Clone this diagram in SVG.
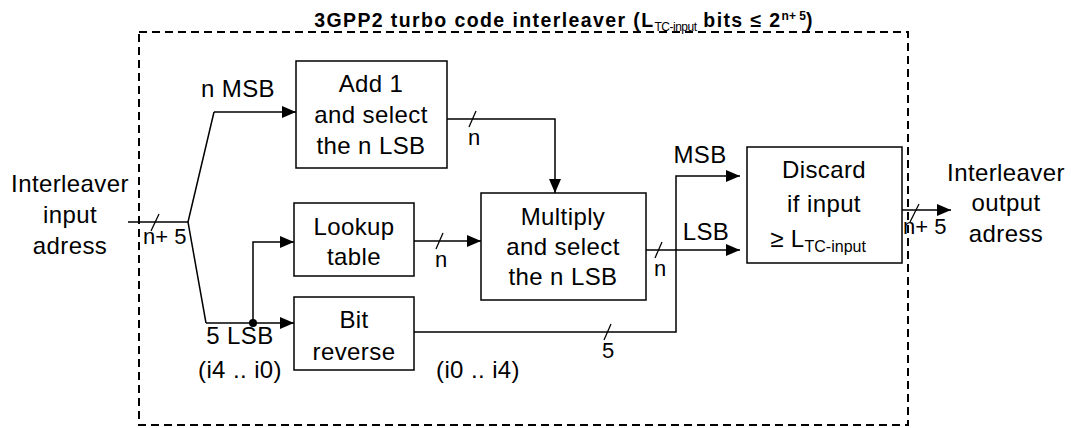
<svg xmlns="http://www.w3.org/2000/svg" width="1071" height="428" viewBox="0 0 1071 428">
<defs>
<marker id="ah" markerWidth="14" markerHeight="12" refX="14" refY="6" orient="auto" markerUnits="userSpaceOnUse">
<path d="M0,0 L14,6 L0,12 Z" fill="#000"/>
</marker>
<style>
text{font-family:"Liberation Sans",Arial,sans-serif;fill:#000}
.b{font-size:24px;text-anchor:middle;letter-spacing:0.4px}
.s{font-size:22px}
.box{fill:#fff;stroke:#000;stroke-width:1.5}
.ln{fill:none;stroke:#000;stroke-width:1.5}
.sl{stroke:#000;stroke-width:1.3}
</style>
</defs>
<rect x="139" y="32" width="769" height="393" fill="none" stroke="#000" stroke-width="2" stroke-dasharray="8,5"/>
<text x="564" y="27" font-size="19.5" font-weight="bold" text-anchor="middle" style="letter-spacing:1.4px">3GPP2 turbo code interleaver (L<tspan font-size="12" font-weight="normal" dy="4" letter-spacing="-0.5">TC-input</tspan><tspan dy="-4"> bits ≤ 2</tspan><tspan font-size="12" dy="-7" letter-spacing="0">n+ 5</tspan><tspan dy="7">)</tspan></text>

<g id="connectors">
<path class="ln" d="M128,222 H188"/>
<path class="ln" d="M214,112 L188,222 L206,323"/>
<path class="ln" d="M214,112 H296" marker-end="url(#ah)"/>
<path class="ln" d="M206,323 H294" marker-end="url(#ah)"/>
<path class="ln" d="M253,323 V242 H294" marker-end="url(#ah)"/>
<circle cx="253" cy="323" r="4" fill="#000"/>
<path class="ln" d="M447,119 H555 V193" marker-end="url(#ah)"/>
<path class="ln" d="M414,241 H481" marker-end="url(#ah)"/>
<path class="ln" d="M646,250 H740" marker-end="url(#ah)"/>
<path class="ln" d="M414,332 H676 V176 H740" marker-end="url(#ah)"/>
<path class="ln" d="M902,210 H951" marker-end="url(#ah)"/>
<line class="sl" x1="151" y1="231" x2="159" y2="214"/>
<line class="sl" x1="469" y1="127" x2="476" y2="111"/>
<line class="sl" x1="436" y1="249" x2="443" y2="233"/>
<line class="sl" x1="655" y1="258" x2="662" y2="242"/>
<line class="sl" x1="604" y1="340" x2="611" y2="324"/>
<line class="sl" x1="910" y1="222" x2="919" y2="204"/>
</g>

<g id="lbl-in">
<text class="b" x="70" y="192">Interleaver</text>
<text class="b" x="70" y="223">input</text>
<text class="b" x="70" y="254">adress</text>
<text class="s" x="143" y="244">n+ 5</text>
</g>
<g id="lbl-out">
<text class="b" x="1006" y="181">Interleaver</text>
<text class="b" x="1006" y="211">output</text>
<text class="b" x="1006" y="242">adress</text>
<text class="s" x="903" y="234">n+ 5</text>
</g>
<text class="b" x="238" y="97">n MSB</text>
<text class="b" x="240" y="344">5 LSB</text>
<text class="b" x="240" y="378">(i4 .. i0)</text>
<text class="b" x="478" y="378">(i0 .. i4)</text>
<text class="b" x="700" y="163">MSB</text>
<text class="b" x="706" y="240">LSB</text>
<text class="s" x="468" y="145">n</text>
<text class="s" x="435" y="267">n</text>
<text class="s" x="654" y="276">n</text>
<text class="s" x="602" y="358">5</text>

<g id="add1">
<rect class="box" x="296" y="61" width="151" height="107"/>
<text class="b" x="371" y="92">Add 1</text>
<text class="b" x="371" y="123">and select</text>
<text class="b" x="371" y="154">the n LSB</text>
</g>
<g id="lookup">
<rect class="box" x="294" y="203" width="120" height="73"/>
<text class="b" x="354" y="235">Lookup</text>
<text class="b" x="354" y="265">table</text>
</g>
<g id="bitrev">
<rect class="box" x="294" y="297" width="120" height="73"/>
<text class="b" x="354" y="328">Bit</text>
<text class="b" x="354" y="360">reverse</text>
</g>
<g id="multiply">
<rect class="box" x="481" y="193" width="165" height="107"/>
<text class="b" x="563" y="225">Multiply</text>
<text class="b" x="563" y="255">and select</text>
<text class="b" x="563" y="285">the n LSB</text>
</g>
<g id="discard">
<rect class="box" x="747" y="147" width="155" height="116"/>
<text class="b" x="824" y="178">Discard</text>
<text class="b" x="824" y="212">if input</text>
<text class="b" x="818" y="247">≥ L<tspan font-size="16" dy="5" letter-spacing="0">TC-input</tspan></text>
</g>
</svg>
